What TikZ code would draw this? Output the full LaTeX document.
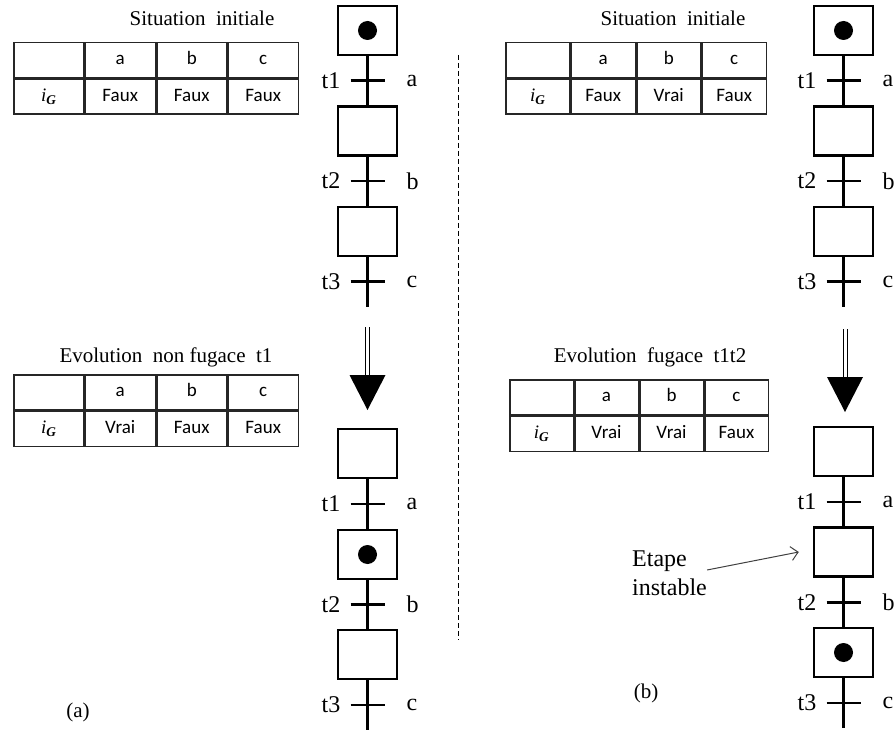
\documentclass[tikz,border=0pt]{standalone}
\usepackage{fontspec}
\setmainfont{Liberation Serif}
\newfontfamily\cellfont{Carlito}
\usetikzlibrary{positioning,arrows.meta}

\newcommand{\grandfont}{\fontsize{24pt}{29pt}\selectfont}
\newcommand{\titrefont}{\fontsize{21pt}{25pt}\selectfont}
\newcommand{\petitfont}{\cellfont\fontsize{19pt}{22pt}\selectfont}
\newcommand{\iG}{{\rmfamily\itshape i\textsubscript{\bfseries G}}}

\tikzset{
    etape/.style={draw, line width=2.5pt, minimum width=59pt, minimum height=49pt, inner sep=0pt},
    liaison/.style={line width=2.5pt},
    numt/.style={font=\grandfont, anchor=east, inner sep=0pt},
    recept/.style={font=\grandfont, anchor=west, inner sep=0pt},
    cellule/.style={draw=black!85, line width=1.5pt, minimum height=35pt, inner sep=0pt,
        font=\petitfont, text height=13pt, text depth=4pt},
    titre/.style={font=\titrefont},
}

\newcommand{\etape}[3]{
            \node[etape] (#1) at (#2,#3) {};
        }
\newcommand{\etapeact}[3]{
            \node[etape] (#1) at (#2,#3) {};
            \fill (#1.center) circle (9.5pt);
        }
\newcommand{\grtrans}[5]{
            \coordinate (#1) at (#2,#3);
            \draw[liaison] ([xshift=-17pt]#1) -- ([xshift=17pt]#1);
            \node[numt] (#1-n) at ([xshift=-27pt]#1) {#4};
            \node[recept] (#1-r) at ([xshift=39pt]#1) {#5};
        }
\newcommand{\tableau}[7]{
            \node[cellule, minimum width=#4, anchor=north west] (#1-00) at (#2,#3) {};
            \node[cellule, minimum width=#4, right=0pt of #1-00] (#1-01) {a};
            \node[cellule, minimum width=#4, right=0pt of #1-01] (#1-02) {b};
            \node[cellule, minimum width=#4, right=0pt of #1-02] (#1-03) {c};
            \node[cellule, minimum width=#4, below=0pt of #1-00] (#1-10) {\iG};
            \node[cellule, minimum width=#4, right=0pt of #1-10] (#1-11) {#5};
            \node[cellule, minimum width=#4, right=0pt of #1-11] (#1-12) {#6};
            \node[cellule, minimum width=#4, right=0pt of #1-12] (#1-13) {#7};
        }
\newcommand{\fleche}[3]{
            \coordinate (#1a) at (#2,#3);
            \coordinate (#1b) at (#2,#3+48);
            \draw[double, double distance=3pt, line width=1pt] (#1a) -- (#1b);
            \fill ([xshift=-18pt]#1b) -- ([xshift=18pt]#1b) -- ([yshift=-35pt]#1b) -- cycle;
        }

\begin{document}
\begin{tikzpicture}[x=1pt, y=-1pt]
        \useasboundingbox (0,0) rectangle (895,733);

        % (a) situation initiale
        \node[titre] (ta1) at (202,18) {Situation\ \ initiale};
        \tableau{ga1}{13}{42}{70}{Faux}{Faux}{Faux}
        \etapeact{as1}{367.5}{30.5}
        \grtrans{at1}{367.5}{80.5}{t1}{a}
        \etape{as2}{367.5}{131}
        \grtrans{at2}{367.5}{181}{t2}{b}
        \etape{as3}{367.5}{231.5}
        \grtrans{at3}{367.5}{281.5}{t3}{c}
        \coordinate (afin) at (367.5,307);
        \draw[liaison] (as1) -- (as2);
        \draw[liaison] (as2) -- (as3);
        \draw[liaison] (as3) -- (afin);

        \fleche{af}{367.5}{327}

        % (a) evolution
        \node[titre] (ta2) at (166,357) {Evolution\ \ non fugace\ \ t1};
        \tableau{ga2}{13}{374}{70}{Vrai}{Faux}{Faux}
        \etape{bs1}{367.5}{453.5}
        \grtrans{bt1}{367.5}{504}{t1}{a}
        \etapeact{bs2}{367.5}{554.5}
        \grtrans{bt2}{367.5}{604.5}{t2}{b}
        \etape{bs3}{367.5}{654.5}
        \grtrans{bt3}{367.5}{705}{t3}{c}
        \coordinate (bfin) at (367.5,730);
        \draw[liaison] (bs1) -- (bs2);
        \draw[liaison] (bs2) -- (bs3);
        \draw[liaison] (bs3) -- (bfin);
        \node[font=\titrefont] (la) at (78,712) {(a)};

        \draw[dashed, dash pattern=on 5pt off 3pt, line width=1pt] (458,55) -- (458,640);

        % (b) situation initiale
        \node[titre] (tb1) at (673,18) {Situation\ \ initiale};
        \tableau{gb1}{505}{42}{64}{Faux}{Vrai}{Faux}
        \etapeact{cs1}{843.5}{30.5}
        \grtrans{ct1}{843.5}{80.5}{t1}{a}
        \etape{cs2}{843.5}{131}
        \grtrans{ct2}{843.5}{181}{t2}{b}
        \etape{cs3}{843.5}{231.5}
        \grtrans{ct3}{843.5}{281.5}{t3}{c}
        \coordinate (cfin) at (843.5,307);
        \draw[liaison] (cs1) -- (cs2);
        \draw[liaison] (cs2) -- (cs3);
        \draw[liaison] (cs3) -- (cfin);

        \fleche{cf}{845}{329}

        % (b) evolution fugace
        \node[titre] (tb2) at (650,357) {Evolution\ \ fugace\ \ t1t2};
        \tableau{gb2}{509}{379}{63.5}{Vrai}{Vrai}{Faux}
        \etape{ds1}{843.5}{451.5}
        \grtrans{dt1}{843.5}{502}{t1}{a}
        \etape{ds2}{843.5}{552}
        \grtrans{dt2}{843.5}{602.5}{t2}{b}
        \etapeact{ds3}{843.5}{652.5}
        \grtrans{dt3}{843.5}{703}{t3}{c}
        \coordinate (dfin) at (843.5,728);
        \draw[liaison] (ds1) -- (ds2);
        \draw[liaison] (ds2) -- (ds3);
        \draw[liaison] (ds3) -- (dfin);
        \node[font=\grandfont, align=left, anchor=west, inner sep=0pt] (instable) at (632,573) {Etape\\instable};
        \draw[-{Straight Barb[length=7pt]}, line width=1pt, black!75] ([yshift=3pt]instable.east) -- ([xshift=-14pt]ds2.west);
        \node[font=\titrefont] (lb) at (646,693) {(b)};
\end{tikzpicture}
\end{document}
